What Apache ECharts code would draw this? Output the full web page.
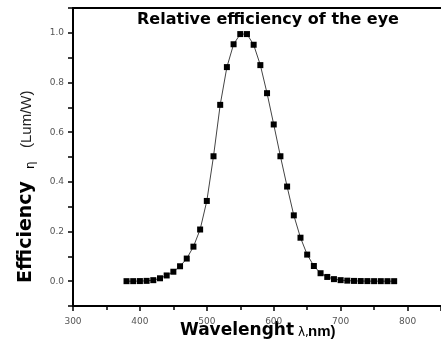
<!DOCTYPE html>
<html><head><meta charset="utf-8">
<script src="https://cdn.jsdelivr.net/npm/echarts@6/dist/echarts.min.js"></script>
<style>html,body{margin:0;padding:0;background:#fff}#c{width:441px;height:353px}</style>
</head><body><div id="c"></div>
<script>
var wavelengths = [380,390,400,410,420,430,440,450,460,470,480,490,500,510,520,530,540,550,560,570,580,590,600,610,620,630,640,650,660,670,680,690,700,710,720,730,740,750,760,770,780];
var efficiency = [0.0000,0.0001,0.0004,0.0012,0.0040,0.0116,0.023,0.038,0.060,0.091,0.139,0.208,0.323,0.503,0.710,0.862,0.954,0.995,0.995,0.952,0.870,0.757,0.631,0.503,0.381,0.265,0.175,0.107,0.061,0.032,0.017,0.0082,0.0041,0.0021,0.0010,0.0005,0.0003,0.0001,0.0001,0.0000,0.0000];
var titleText = 'Relative efficiency of the eye';
var xName = 'Wavelenght';
var yName = 'Efficiency';

var chart = echarts.init(document.getElementById('c'));
var pts = wavelengths.map(function(w,i){return [w, efficiency[i]];});
chart.setOption({
  animation:false,
  title:{text:titleText,left:263,top:7,textAlign:'center',
    textStyle:{fontFamily:'DejaVu Sans',fontWeight:'bold',fontSize:16,color:'#000'}},
  grid:{left:73,right:-3,top:8,bottom:47},
  xAxis:[{type:'value',min:300,max:850,interval:100,
    axisLine:{show:true,onZero:false,lineStyle:{color:'#000',width:2}},
    axisTick:{show:true,length:5,lineStyle:{color:'#000',width:1.5}},
    minorTick:{show:true,splitNumber:2,length:4,lineStyle:{color:'#000',width:1.5}},
    splitLine:{show:false},
    axisLabel:{margin:11,fontSize:9,color:'#555',fontFamily:'DejaVu Sans',showMaxLabel:false,
      formatter:function(v){return (v%100===0)?String(v):'';}}},
    {type:'value',position:'top',min:300,max:850,
    axisLine:{show:true,onZero:false,lineStyle:{color:'#000',width:2}},
    axisTick:{show:false},axisLabel:{show:false},splitLine:{show:false}}],
  yAxis:{type:'value',min:-0.1,max:1.1,interval:0.1,
    axisLine:{show:true,onZero:false,lineStyle:{color:'#000',width:2}},
    axisTick:{show:true,length:5,lineStyle:{color:'#000',width:1.5}},
    splitLine:{show:false},
    axisLabel:{margin:9,fontSize:9,color:'#555',fontFamily:'DejaVu Sans',
      formatter:function(v){var k=Math.round(v*10);return (k>=0&&k<=10&&k%2===0)?(k/10).toFixed(1):'';}}},
  series:[{type:'line',data:pts,symbol:'rect',symbolSize:6,
    lineStyle:{color:'#444',width:1},itemStyle:{color:'#000'}}],
  graphic:[
    {type:'text',x:26,y:283,rotation:Math.PI/2,style:{text:yName,font:'bold 19px "DejaVu Sans"',fill:'#000',textAlign:'left',textVerticalAlign:'middle'}},
    {type:'text',x:31,y:169,rotation:Math.PI/2,style:{text:'η',font:'12px "DejaVu Sans"',fill:'#000',textAlign:'left',textVerticalAlign:'middle'}},
    {type:'text',x:27,y:148,rotation:Math.PI/2,style:{text:'(Lum/W)',font:'15px "Liberation Sans"',fill:'#222',textAlign:'left',textVerticalAlign:'middle'}},
    {type:'text',x:180,y:331,style:{text:xName,font:'bold 17px "DejaVu Sans"',fill:'#000',textAlign:'left',textVerticalAlign:'middle'}},
    {type:'text',x:298,y:333,style:{text:'λ,',font:'12px "DejaVu Sans"',fill:'#000',textAlign:'left',textVerticalAlign:'middle'}},
    {type:'text',x:308,y:332,style:{text:'nm)',font:'bold 15px "Liberation Sans"',fill:'#000',textAlign:'left',textVerticalAlign:'middle'}}
  ]
});
</script></body></html>
